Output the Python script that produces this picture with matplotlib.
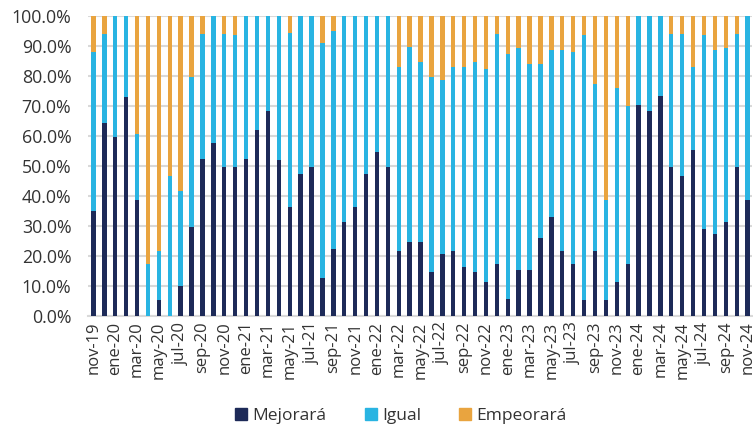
import matplotlib.pyplot as plt
from matplotlib.ticker import FuncFormatter
from matplotlib.patches import Patch

plt.rcParams['font.family'] = ['Open Sans', 'DejaVu Sans']

MESES = ["ene", "feb", "mar", "abr", "may", "jun", "jul", "ago", "sep", "oct", "nov", "dic"]

# nov-19 ... nov-24 (61 meses)
labels = []
for k in range(61):
    m = (10 + k) % 12
    y = 19 + (10 + k) // 12
    labels.append(f"{MESES[m]}-{y}")

# porcentajes
mejorara = [35.0, 64.4, 59.8, 73.0, 38.7, 0.0, 5.4, 0.0, 10.1, 29.8,
            52.4, 57.6, 49.8, 49.8, 52.4, 62.1, 68.4, 52.1, 36.4, 47.4,
            49.8, 12.8, 22.4, 31.4, 36.4, 47.4, 54.7, 49.8, 21.8, 24.7,
            24.7, 14.8, 20.8, 21.8, 16.4, 14.8, 11.4, 17.2, 5.8, 15.4,
            15.4, 26.1, 33.0, 21.8, 17.2, 5.4, 21.8, 5.4, 11.4, 17.4,
            70.2, 68.4, 73.3, 49.8, 46.8, 55.2, 29.1, 27.4, 31.4, 49.8,
            38.6]
# mejorara + igual (tope de la barra celeste)
tope_igual = [87.9, 93.9, 100, 100, 60.8, 17.4, 21.8, 46.8, 41.8, 79.7,
              93.9, 100, 94.1, 93.6, 100, 100, 100, 100, 94.4, 100,
              100, 91.0, 95.1, 100, 100, 100, 100, 100, 83.0, 89.7,
              84.8, 79.7, 78.7, 83.0, 83.0, 84.8, 82.2, 93.9, 87.2, 89.2,
              83.9, 83.9, 88.7, 88.7, 87.9, 93.8, 77.4, 38.6, 76.1, 70.1,
              100, 100, 100, 94.1, 93.9, 83.0, 93.8, 88.7, 89.2, 94.1,
              100]

igual = [t - m for t, m in zip(tope_igual, mejorara)]
empeorara = [100 - t for t in tope_igual]

C_MEJ = "#1d2a58"
C_IGU = "#29b4e2"
C_EMP = "#e9a43f"

fig = plt.figure(figsize=(7.53, 4.28), dpi=100)
ax = fig.add_axes([88 / 753, 1 - 316 / 428, 664 / 753, 300 / 428])

x = list(range(len(labels)))
w = 0.4
ax.bar(x, [v / 100 for v in mejorara], w, color=C_MEJ, zorder=3)
ax.bar(x, [v / 100 for v in igual], w, bottom=[v / 100 for v in mejorara], color=C_IGU, zorder=3)
ax.bar(x, [v / 100 for v in empeorara], w, bottom=[v / 100 for v in tope_igual], color=C_EMP, zorder=3)

ax.set_ylim(0, 1)
ax.set_xlim(-0.5, 60.4)
ax.set_yticks([i / 10 for i in range(11)])
ax.yaxis.set_major_formatter(FuncFormatter(lambda v, p: f"{v * 100:.1f}%"))
ax.set_xticks(x[::2])
ax.set_xticklabels(labels[::2], rotation=90)
ax.tick_params(axis='both', length=0, labelsize=12, colors="#333333")
ax.tick_params(axis='x', pad=4)
ax.tick_params(axis='y', pad=12, labelsize=12.8)
ax.grid(axis='y', color="#d9d9d9", linewidth=1.5, zorder=0)
for s in ["top", "right", "left"]:
    ax.spines[s].set_visible(False)
ax.spines["bottom"].set_color("#d9d9d9")
ax.spines["bottom"].set_linewidth(1.5)

handles = [Patch(color=C_MEJ, label="Mejorará"),
           Patch(color=C_IGU, label="Igual"),
           Patch(color=C_EMP, label="Empeorará")]
fig.legend(handles=handles, loc="center", bbox_to_anchor=(401 / 753, 1 - 416 / 428),
           ncol=3, frameon=False, fontsize=12.5, handlelength=0.7, handleheight=0.7,
           handletextpad=0.3, columnspacing=2.2, labelcolor="#333333")

fig.savefig("out.png", dpi=100)
